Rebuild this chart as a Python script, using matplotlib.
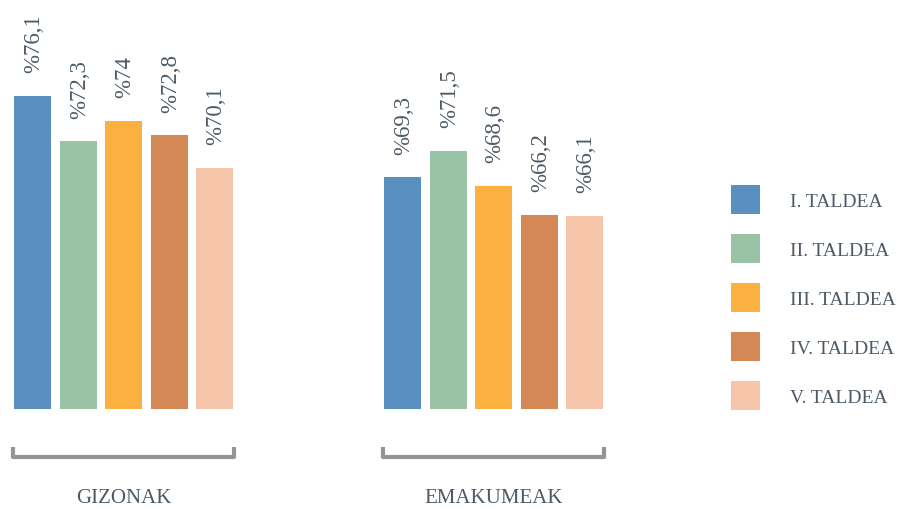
import numpy as np
import matplotlib.pyplot as plt

taldeak = ['I. TALDEA', 'II. TALDEA', 'III. TALDEA', 'IV. TALDEA', 'V. TALDEA']
sexuak = ['GIZONAK', 'EMAKUMEAK']
gizonak = [76.1, 72.3, 74.0, 72.8, 70.1]
emakumeak = [69.3, 71.5, 68.6, 66.2, 66.1]
koloreak = ['#5a8fc2', '#9ac3a5', '#fbb040', '#d48855', '#f7c6aa']

testu_kolorea = '#4d5a66'
plt.rcParams['font.family'] = ['Liberation Serif', 'DejaVu Serif']

fig = plt.figure(figsize=(8.99, 5.10), dpi=100)
ax = fig.add_axes([0, 0, 1, 1])
ax.set_xlim(-123.5 / 370, (899 - 123.5) / 370)
ax.set_ylim(50 - 100 / 12, 50 + 410 / 12)
ax.axis('off')

datuak = np.array([gizonak, emakumeak])
tartea = 45.5 / 370
zabalera = 37 / 370
oinarria = 50

for i, taldea in enumerate(taldeak):
    x = np.arange(len(sexuak)) + (i - 2) * tartea
    balioak = datuak[:, i]
    ax.bar(x, balioak - oinarria, bottom=oinarria, width=zabalera,
           color=koloreak[i], label=taldea)
    for xx, b in zip(x, balioak):
        testua = ('%' + f'{b:g}').replace('.', ',')
        ax.annotate(testua, (xx, b), xytext=(1, 17), textcoords='offset points',
                    rotation=90, ha='center', va='bottom', fontsize=16.5,
                    color=testu_kolorea)

# kortxeteak taldeen azpian
for g, izena in enumerate(sexuak):
    ezk = g - 2 * tartea - zabalera / 2 - 1 / 370
    esk = g + 2 * tartea + zabalera / 2 + 1 / 370
    behe = 50 - 48 / 12
    goi = 50 - 38 / 12
    ax.plot([ezk, ezk, esk, esk], [goi, behe, behe, goi], color='#939598',
            lw=3, solid_joinstyle='round', solid_capstyle='butt')
    ax.text(g, 50 - 89 / 12, izena, ha='center', va='center',
            fontsize=15, color=testu_kolorea)

leg = fig.legend(loc='upper left', bbox_to_anchor=(731 / 899, 1 - 186 / 510),
                 frameon=False, fontsize=14, handlelength=1.49,
                 handleheight=1.92, labelspacing=1.03, handletextpad=1.54,
                 borderpad=0, borderaxespad=0)
for t in leg.get_texts():
    t.set_color(testu_kolorea)

fig.savefig('out.png', dpi=100)
